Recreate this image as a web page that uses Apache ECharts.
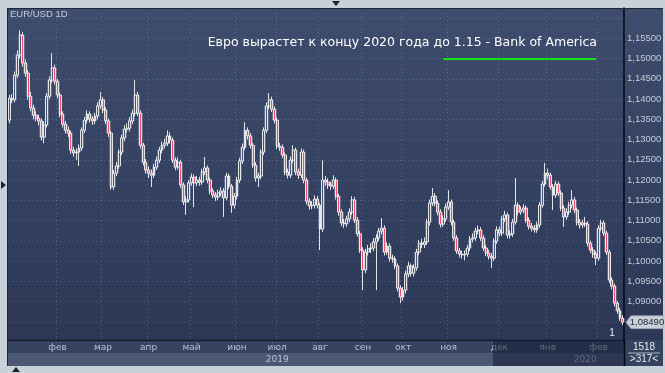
<!DOCTYPE html>
<html><head><meta charset="utf-8">
<script src="https://cdn.jsdelivr.net/npm/echarts@6/dist/echarts.min.js"></script>
<style>html,body{margin:0;padding:0;background:#c8d0da}#c{width:665px;height:373px}</style>
</head><body><div id="c"></div><script>
const opens=[1.1348,1.1402,1.1398,1.1459,1.1509,1.1558,1.1489,1.1464,1.1407,1.1378,
1.1360,1.1353,1.1346,1.1306,1.1336,1.1407,1.1447,1.1477,1.1444,1.1410,
1.1363,1.1338,1.1323,1.1316,1.1274,1.1267,1.1269,1.1279,1.1323,1.1348,
1.1363,1.1351,1.1346,1.1358,1.1383,1.1398,1.1373,1.1346,1.1316,1.1183,
1.1217,1.1235,1.1269,1.1304,1.1326,1.1328,1.1346,1.1365,1.1410,1.1365,
1.1286,1.1244,1.1225,1.1217,1.1212,1.1232,1.1249,1.1274,1.1286,1.1291,
1.1309,1.1299,1.1249,1.1232,1.1244,1.1188,1.1146,1.1151,1.1193,1.1207,
1.1193,1.1200,1.1195,1.1220,1.1230,1.1200,1.1173,1.1163,1.1158,1.1168,
1.1173,1.1156,1.1210,1.1185,1.1138,1.1160,1.1200,1.1247,1.1281,1.1323,
1.1309,1.1286,1.1237,1.1205,1.1210,1.1269,1.1323,1.1383,1.1398,1.1375,
1.1348,1.1284,1.1281,1.1262,1.1220,1.1212,1.1249,1.1274,1.1220,1.1212,
1.1269,1.1200,1.1148,1.1136,1.1138,1.1153,1.1138,1.1079,1.1200,1.1195,
1.1188,1.1185,1.1200,1.1160,1.1121,1.1094,1.1092,1.1104,1.1121,1.1151,
1.1101,1.1067,1.1027,1.0978,1.1022,1.1030,1.1032,1.1047,1.1057,1.1074,
1.1081,1.1022,1.1037,1.1007,1.1005,1.0988,1.0933,1.0911,1.0928,1.0968,
1.0988,1.0970,1.0983,1.1022,1.1044,1.1041,1.1047,1.1096,1.1143,1.1160,
1.1143,1.1121,1.1091,1.1104,1.1133,1.1146,1.1096,1.1057,1.1025,1.1017,
1.1015,1.1017,1.1032,1.1054,1.1057,1.1074,1.1077,1.1057,1.1032,1.1020,
1.1012,1.1007,1.1049,1.1077,1.1069,1.1104,1.1114,1.1064,1.1067,1.1096,
1.1138,1.1121,1.1126,1.1131,1.1101,1.1086,1.1081,1.1077,1.1089,1.1138,
1.1190,1.1217,1.1212,1.1183,1.1163,1.1190,1.1168,1.1131,1.1109,1.1121,
1.1138,1.1151,1.1126,1.1096,1.1089,1.1094,1.1091,1.1044,1.1027,1.1017,
1.1007,1.1081,1.1094,1.1069,1.1022,1.0953,1.0938,1.0896,1.0877,1.0859];
const closes=[1.1402,1.1398,1.1459,1.1509,1.1558,1.1489,1.1464,1.1407,1.1378,1.1360,
1.1353,1.1346,1.1306,1.1336,1.1407,1.1447,1.1477,1.1444,1.1410,1.1363,
1.1338,1.1323,1.1316,1.1274,1.1267,1.1269,1.1279,1.1323,1.1348,1.1363,
1.1351,1.1346,1.1358,1.1383,1.1398,1.1373,1.1346,1.1316,1.1183,1.1217,
1.1235,1.1269,1.1304,1.1326,1.1328,1.1346,1.1365,1.1410,1.1365,1.1286,
1.1244,1.1225,1.1217,1.1212,1.1232,1.1249,1.1274,1.1286,1.1291,1.1309,
1.1299,1.1249,1.1232,1.1244,1.1188,1.1146,1.1151,1.1193,1.1207,1.1193,
1.1200,1.1195,1.1220,1.1230,1.1200,1.1173,1.1163,1.1158,1.1168,1.1173,
1.1156,1.1210,1.1185,1.1138,1.1160,1.1200,1.1247,1.1281,1.1323,1.1309,
1.1286,1.1237,1.1205,1.1210,1.1269,1.1323,1.1383,1.1398,1.1375,1.1348,
1.1284,1.1281,1.1262,1.1220,1.1212,1.1249,1.1274,1.1220,1.1212,1.1269,
1.1200,1.1148,1.1136,1.1138,1.1153,1.1138,1.1079,1.1200,1.1195,1.1188,
1.1185,1.1200,1.1160,1.1121,1.1094,1.1092,1.1104,1.1121,1.1151,1.1101,
1.1067,1.1027,1.0978,1.1022,1.1030,1.1032,1.1047,1.1057,1.1074,1.1081,
1.1022,1.1037,1.1007,1.1005,1.0988,1.0933,1.0911,1.0928,1.0968,1.0988,
1.0970,1.0983,1.1022,1.1044,1.1041,1.1047,1.1096,1.1143,1.1160,1.1143,
1.1121,1.1091,1.1104,1.1133,1.1146,1.1096,1.1057,1.1025,1.1017,1.1015,
1.1017,1.1032,1.1054,1.1057,1.1074,1.1077,1.1057,1.1032,1.1020,1.1012,
1.1007,1.1049,1.1077,1.1069,1.1104,1.1114,1.1064,1.1067,1.1096,1.1138,
1.1121,1.1126,1.1131,1.1101,1.1086,1.1081,1.1077,1.1089,1.1138,1.1190,
1.1217,1.1212,1.1183,1.1163,1.1190,1.1168,1.1131,1.1109,1.1121,1.1138,
1.1151,1.1126,1.1096,1.1089,1.1094,1.1091,1.1044,1.1027,1.1017,1.1007,
1.1081,1.1094,1.1069,1.1022,1.0953,1.0938,1.0896,1.0877,1.0859,1.0849];
const highs=[1.1410,1.1412,1.1468,1.1520,1.1570,1.1566,1.1498,1.1472,1.1418,1.1386,
1.1370,1.1362,1.1352,1.1345,1.1415,1.1456,1.1514,1.1485,1.1450,1.1416,
1.1370,1.1346,1.1332,1.1322,1.1282,1.1278,1.1288,1.1330,1.1356,1.1372,
1.1370,1.1358,1.1366,1.1392,1.1417,1.1405,1.1380,1.1352,1.1322,1.1225,
1.1244,1.1276,1.1312,1.1335,1.1340,1.1355,1.1374,1.1447,1.1418,1.1372,
1.1292,1.1252,1.1234,1.1226,1.1240,1.1258,1.1282,1.1295,1.1302,1.1323,
1.1318,1.1305,1.1256,1.1256,1.1250,1.1194,1.1160,1.1200,1.1216,1.1214,
1.1210,1.1208,1.1228,1.1257,1.1236,1.1206,1.1180,1.1170,1.1176,1.1182,
1.1180,1.1218,1.1216,1.1190,1.1168,1.1208,1.1255,1.1290,1.1343,1.1330,
1.1316,1.1292,1.1244,1.1218,1.1276,1.1330,1.1392,1.1415,1.1406,1.1382,
1.1354,1.1292,1.1288,1.1268,1.1228,1.1258,1.1286,1.1280,1.1228,1.1278,
1.1275,1.1206,1.1155,1.1148,1.1162,1.1160,1.1144,1.1249,1.1210,1.1204,
1.1196,1.1212,1.1206,1.1166,1.1128,1.1104,1.1112,1.1130,1.1160,1.1158,
1.1108,1.1074,1.1034,1.1030,1.1040,1.1044,1.1056,1.1066,1.1082,1.1106,
1.1088,1.1046,1.1044,1.1016,1.1012,1.0994,1.0940,1.0936,1.0976,1.0998,
1.0994,1.0992,1.1030,1.1052,1.1055,1.1058,1.1104,1.1152,1.1180,1.1168,
1.1150,1.1128,1.1113,1.1141,1.1175,1.1152,1.1102,1.1064,1.1032,1.1026,
1.1026,1.1040,1.1062,1.1068,1.1082,1.1088,1.1084,1.1064,1.1040,1.1028,
1.1020,1.1056,1.1086,1.1085,1.1112,1.1124,1.1120,1.1076,1.1104,1.1205,
1.1145,1.1135,1.1140,1.1137,1.1108,1.1094,1.1089,1.1097,1.1146,1.1198,
1.1242,1.1228,1.1218,1.1190,1.1198,1.1196,1.1175,1.1138,1.1130,1.1146,
1.1175,1.1158,1.1132,1.1104,1.1102,1.1109,1.1098,1.1050,1.1034,1.1024,
1.1088,1.1102,1.1100,1.1075,1.1028,1.0960,1.0944,1.0902,1.0884,1.0866];
const lows=[1.1340,1.1390,1.1392,1.1452,1.1500,1.1480,1.1455,1.1398,1.1370,1.1350,
1.1345,1.1335,1.1298,1.1291,1.1330,1.1400,1.1440,1.1436,1.1402,1.1355,
1.1330,1.1315,1.1306,1.1265,1.1258,1.1250,1.1235,1.1272,1.1316,1.1340,
1.1342,1.1336,1.1338,1.1350,1.1376,1.1365,1.1338,1.1306,1.1176,1.1176,
1.1210,1.1228,1.1262,1.1296,1.1318,1.1320,1.1338,1.1358,1.1358,1.1278,
1.1236,1.1216,1.1205,1.1183,1.1205,1.1225,1.1242,1.1266,1.1278,1.1284,
1.1290,1.1242,1.1224,1.1226,1.1180,1.1138,1.1114,1.1144,1.1186,1.1133,
1.1185,1.1186,1.1188,1.1212,1.1192,1.1165,1.1155,1.1148,1.1150,1.1160,
1.1109,1.1150,1.1178,1.1119,1.1130,1.1152,1.1193,1.1240,1.1274,1.1300,
1.1278,1.1230,1.1196,1.1183,1.1202,1.1262,1.1316,1.1375,1.1368,1.1340,
1.1276,1.1272,1.1254,1.1212,1.1204,1.1205,1.1242,1.1212,1.1203,1.1205,
1.1192,1.1140,1.1127,1.1128,1.1130,1.1130,1.1027,1.1072,1.1186,1.1178,
1.1176,1.1178,1.1152,1.1112,1.1086,1.1082,1.1084,1.1096,1.1114,1.1094,
1.1060,1.1020,1.0928,1.0970,1.1014,1.1020,1.1024,1.0928,1.1050,1.1066,
1.1014,1.1015,1.0999,1.0996,1.0980,1.0925,1.0896,1.0902,1.0920,1.0960,
1.0962,1.0962,1.0976,1.1015,1.1032,1.1032,1.1040,1.1088,1.1136,1.1135,
1.1113,1.1083,1.1084,1.1097,1.1126,1.1088,1.1050,1.1018,1.1009,1.1006,
1.1002,1.1010,1.1025,1.1046,1.1050,1.1066,1.1050,1.1025,1.1012,1.1004,
1.0983,1.1000,1.1042,1.1061,1.1062,1.1096,1.1056,1.1055,1.1060,1.1090,
1.1113,1.1114,1.1118,1.1094,1.1078,1.1073,1.1070,1.1070,1.1082,1.1132,
1.1184,1.1202,1.1176,1.1126,1.1156,1.1160,1.1124,1.1084,1.1102,1.1114,
1.1130,1.1118,1.1088,1.1080,1.1082,1.1084,1.1036,1.1020,1.1008,1.0990,
1.1000,1.1074,1.1062,1.1015,1.0946,1.0930,1.0888,1.0870,1.0852,1.0842];

const monthTickIdx=[18,35,52,68,85,100,116,132,147,164,183,201,220];
const monthTickLabels=['фев','мар','апр','май','июн','июл','авг','сен','окт','ноя','дек','янв','фев'];
const yearTickIdx=[100,215];
const yearTickLabels=['2019','2020'];
const lastPrice=1.0849;
const targetLevel=1.15, targetFromIdx=162, targetToIdx=219;
const titleText='Евро вырастет к концу 2020 года до 1.15 - Bank of America';

const categories=closes.map((_,i)=>String(i));
const candles=closes.map((c,i)=>[opens[i],c,lows[i],highs[i]]);
const FONT='Liberation Sans, Arial, sans-serif';
const TFONT='DejaVu Sans, Verdana, sans-serif';

const chart=echarts.init(document.getElementById('c'),null,{renderer:'canvas'});
const option={
  animation:false,
  backgroundColor:'#c8d0da',
  grid:{left:8,top:8,right:41,bottom:31,containLabel:false},
  xAxis:[{
    type:'category',data:categories,boundaryGap:true,
    axisLine:{show:false},axisTick:{show:false},
    axisLabel:{interval:(i)=>monthTickIdx.includes(i),margin:1,fontSize:9,fontFamily:TFONT,color:'#b6c1d4',
      formatter:(v,i)=>{const k=monthTickIdx.indexOf(i);return k>=0?monthTickLabels[k]:'';}},
    splitLine:{show:true,interval:(i)=>monthTickIdx.includes(i),lineStyle:{color:'rgba(125,145,180,0.45)',type:[1,3],width:1}}
  },{
    type:'category',data:categories,boundaryGap:true,position:'bottom',offset:12,
    axisLine:{show:false},axisTick:{show:false},splitLine:{show:false},
    axisLabel:{interval:(i)=>yearTickIdx.includes(i),margin:1,fontSize:9,fontFamily:TFONT,color:'#b6c1d4',
      formatter:(v,i)=>{const k=yearTickIdx.indexOf(i);return k>=0?yearTickLabels[k]:'';}}
  }],
  yAxis:{
    type:'value',position:'right',min:1.08,max:1.1625,interval:0.005,scale:true,
    axisLine:{show:true,lineStyle:{color:'#05080f',width:1.5}},
    axisTick:{show:false},
    axisLabel:{margin:3,fontSize:9.5,fontFamily:FONT,color:'#c3ccdb',
      formatter:(v)=> (v>1.0895 && v<1.1555)? v.toFixed(5).replace('.',','):''},
    splitLine:{show:true,lineStyle:{color:'rgba(125,145,180,0.45)',type:[1,3],width:1}}
  },
  series:[{
    type:'candlestick',data:candles,barWidth:'140%',z:1,silent:true,
    itemStyle:{color:'rgba(165,172,190,0.28)',color0:'rgba(165,172,190,0.28)',borderColor:'rgba(165,172,190,0.28)',borderColor0:'rgba(165,172,190,0.28)',borderWidth:1}
  },{
    type:'candlestick',data:candles,barWidth:'90%',z:2,
    itemStyle:{color:'rgba(70,84,115,0.9)',color0:'#ea4f6b',borderColor:'#f4f4f4',borderColor0:'#f4f4f4',borderWidth:0.9},
    markLine:{silent:true,symbol:['none','none'],label:{show:false},
      lineStyle:{color:'#14e014',width:2,type:'solid'},
      data:[[{coord:[targetFromIdx,targetLevel]},{coord:[targetToIdx,targetLevel]}]]}
  }],
  graphic:[
    {type:'rect',z:-100,shape:{x:8,y:8,width:655,height:358},
     style:{fill:new echarts.graphic.LinearGradient(0,0,0,1,[{offset:0,color:'#3e4c6d'},{offset:1,color:'#2b3654'}])}},
    {type:'rect',z:-50,shape:{x:8,y:340,width:616,height:13},style:{fill:'#36445f'}},
    {type:'rect',z:-50,shape:{x:8,y:353,width:616,height:13},style:{fill:'#4a5876'}},
    {type:'rect',z:-50,shape:{x:625,y:340,width:38,height:26},style:{fill:'#36435f'}},
    {type:'rect',z:50,shape:{x:493,y:340,width:131,height:26},style:{fill:'rgba(22,30,52,0.55)'}},
    {type:'line',z:60,shape:{x1:8,y1:340.5,x2:624,y2:340.5},style:{stroke:'#151c2c',lineWidth:1.5}},
    {type:'line',z:60,shape:{x1:8,y1:8.5,x2:663,y2:8.5},style:{stroke:'#1e2536',lineWidth:1}},
    {type:'line',z:60,shape:{x1:7.5,y1:8,x2:7.5,y2:366},style:{stroke:'#1e2536',lineWidth:1}},
    {type:'line',z:60,shape:{x1:624.5,y1:340,x2:624.5,y2:366},style:{stroke:'#05080f',lineWidth:1.5}},
    {type:'line',z:60,shape:{x1:628,y1:353,x2:660,y2:353},style:{stroke:'#c8cfdb',lineWidth:0.8}},
    {type:'text',z:60,style:{x:644,y:347,text:'1518',fill:'#e6e9ef',font:'10px '+FONT,textAlign:'center',textVerticalAlign:'middle'}},
    {type:'text',z:60,style:{x:644,y:359,text:'>317<',fill:'#e6e9ef',font:'10px '+FONT,textAlign:'center',textVerticalAlign:'middle'}},
    {type:'text',z:60,style:{x:10,y:14,text:'EUR/USD 1D',fill:'#c4ccdb',font:'9.5px '+FONT,textAlign:'left',textVerticalAlign:'middle'}},
    {type:'text',z:60,style:{x:597,y:43,text:titleText,fill:'#ffffff',font:'12.5px '+TFONT,textAlign:'right',textVerticalAlign:'middle'}},
    {type:'text',z:60,style:{x:612,y:333,text:'1',fill:'#e8ecf2',font:'10px '+FONT,textAlign:'center',textVerticalAlign:'middle'}},
    {type:'polygon',z:60,shape:{points:[[332,1],[340,1],[336,6]]},style:{fill:'#1c2232'}},
    {type:'polygon',z:60,shape:{points:[[1,181],[1,189],[6,185]]},style:{fill:'#1c2232'}},
    {type:'polygon',z:60,shape:{points:[[12,372],[20,372],[16,367]]},style:{fill:'#1c2232'}}
  ]
};
chart.setOption(option);
const py=chart.convertToPixel({yAxisIndex:0},lastPrice);
chart.setOption({graphic:option.graphic.concat([
  {type:'polygon',z:70,shape:{points:[[626,py],[631,py-6.5],[663,py-6.5],[663,py+6.5],[631,py+6.5]]},style:{fill:'#c9cfd8',stroke:'#9aa3b2',lineWidth:0.6}},
  {type:'text',z:71,style:{x:647,y:py,text:lastPrice.toFixed(5).replace('.',','),fill:'#1c2638',font:'9.5px '+FONT,textAlign:'center',textVerticalAlign:'middle'}}
])});
</script></body></html>
